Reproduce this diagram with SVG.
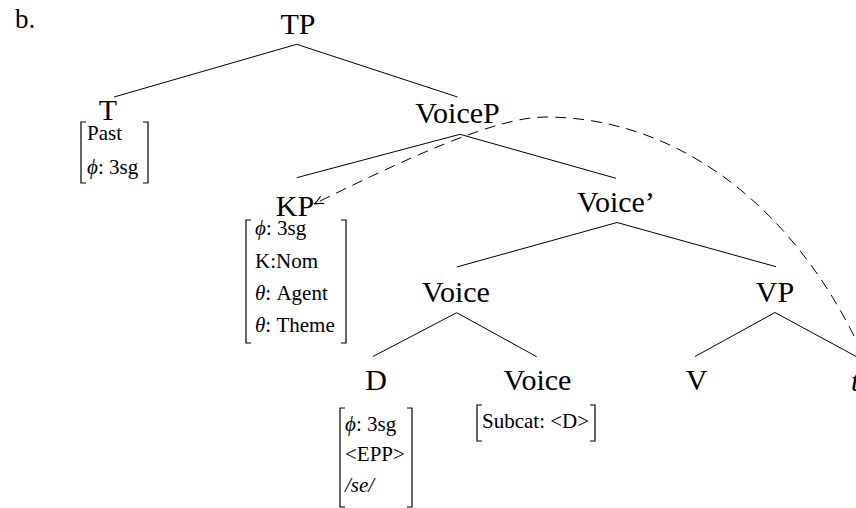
<svg xmlns="http://www.w3.org/2000/svg" width="856" height="508" viewBox="0 0 856 508" font-family="'Liberation Serif', 'DejaVu Serif', serif">
<style>
text{font-family:'Liberation Serif','DejaVu Serif',serif;fill:#000}
.lab{font-size:30px;text-anchor:middle}
.f{font-size:21px}
.it{font-style:italic}
.edge{stroke:#000;stroke-width:1;fill:none}
.br{stroke:#000;stroke-width:1.2;fill:none}
.mv{stroke:#000;stroke-width:1;fill:none;stroke-dasharray:11 7}
</style>
<defs>
<marker id="arr" markerUnits="userSpaceOnUse" markerWidth="14" markerHeight="14" viewBox="-10 -6 12 12" refX="0" refY="0" orient="auto">
<path d="M-8,-3.5 Q-3,-0.5 0,0 Q-3,0.5 -8,3.5" stroke="#000" stroke-width="1" fill="none"/>
</marker>
</defs>
<text x="15" y="28" font-size="27">b.</text>
<g id="connectors">
<line class="edge" x1="296.7" y1="44.3" x2="114" y2="97"/>
<line class="edge" x1="296.7" y1="44.3" x2="457.5" y2="97"/>
<line class="edge" x1="460" y1="134.3" x2="296.7" y2="177.7"/>
<line class="edge" x1="460" y1="134.3" x2="616" y2="178.3"/>
<line class="edge" x1="617" y1="222.5" x2="456.7" y2="267"/>
<line class="edge" x1="617" y1="222.5" x2="776" y2="266.7"/>
<line class="edge" x1="456.7" y1="312.7" x2="373" y2="356.5"/>
<line class="edge" x1="456.7" y1="312.7" x2="536.7" y2="356.7"/>
<line class="edge" x1="775" y1="312.5" x2="695" y2="356.5"/>
<line class="edge" x1="775" y1="312.5" x2="858" y2="357.5"/>
<path class="mv" d="M854,336 C787.6,203 675,117 545,117 C495,117 402.5,160.5 314,204" marker-end="url(#arr)"/>
</g>
<g id="TP"><text class="lab" x="298" y="34">TP</text></g>
<g id="T">
<text class="lab" x="108" y="120">T</text>
<path class="br" d="M86,122 H81 V183 H86"/>
<path class="br" d="M143,122 H148 V183 H143"/>
<text class="f" x="87" y="140">Past</text>
<text class="f" x="87" y="174"><tspan class="it">ϕ</tspan>: 3sg</text>
</g>
<g id="VoiceP"><text class="lab" x="457.5" y="123">VoiceP</text></g>
<g id="KP">
<text class="lab" x="295" y="216">KP</text>
<path class="br" d="M251,220 H246 V343 H251"/>
<path class="br" d="M341,220 H346 V343 H341"/>
<text class="f" x="255" y="235"><tspan class="it">ϕ</tspan>: 3sg</text>
<text class="f" x="255" y="268">K:Nom</text>
<text class="f" x="255" y="300"><tspan class="it">θ</tspan>: Agent</text>
<text class="f" x="255" y="332"><tspan class="it">θ</tspan>: Theme</text>
</g>
<g id="Voice-bar"><text class="lab" x="616" y="211.7">Voice’</text></g>
<g id="Voice"><text class="lab" x="456" y="302">Voice</text></g>
<g id="VP"><text class="lab" x="775" y="302">VP</text></g>
<g id="D">
<text class="lab" x="376" y="390">D</text>
<path class="br" d="M345,408 H340 V507 H345"/>
<path class="br" d="M407,408 H412 V507 H407"/>
<text class="f" x="345" y="431"><tspan class="it">ϕ</tspan>: 3sg</text>
<text class="f" x="345" y="461">&lt;EPP&gt;</text>
<text class="f it" x="345" y="492">/se/</text>
</g>
<g id="Voice-head">
<text class="lab" x="537.5" y="390">Voice</text>
<path class="br" d="M482,405 H477 V441 H482"/>
<path class="br" d="M590,405 H595 V441 H590"/>
<text class="f" x="482" y="428">Subcat: &lt;D&gt;</text>
</g>
<g id="V"><text class="lab" x="696.7" y="390">V</text></g>
<g id="t"><text class="lab it" x="851" y="391" style="text-anchor:start">t</text></g>
</svg>
